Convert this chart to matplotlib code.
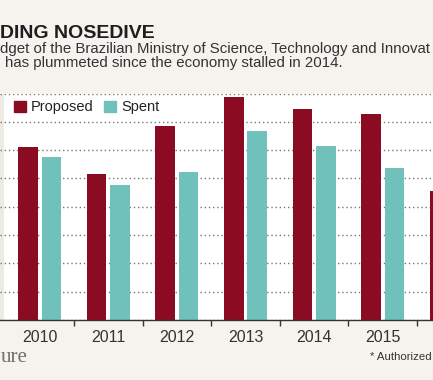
import numpy as np
import matplotlib
matplotlib.use('Agg')
import matplotlib.pyplot as plt
from matplotlib.patches import Patch

years = ['2010', '2011', '2012', '2013', '2014', '2015', '2016*']
proposed = [6.10, 5.15, 6.86, 7.86, 7.47, 7.29, 4.56]
spent = [5.77, 4.76, 5.21, 6.68, 6.15, 5.38, np.nan]

bg = '#f5f3ee'
red = '#8a0b22'
teal = '#70c1bc'

W, H = 433, 380
fig = plt.figure(figsize=(W / 100, H / 100), dpi=100)
fig.patch.set_facecolor(bg)

sans = ['Liberation Sans', 'DejaVu Sans']

# axes placed in pixel terms of the original picture
top_px, bot_px = 93.5, 320
ax = fig.add_axes([0, 1 - bot_px / H, 1, (bot_px - top_px) / H])
ax.set_facecolor('white')

x = np.arange(len(years))
bw = 0.284
off = 0.171
ax.bar(x - off, proposed, bw, color=red, zorder=2)
ax.bar(x + off, spent, bw, color=teal, zorder=2)

# only the years that fall inside the crop get a label
ax.set_xticks(x[:-1])
ax.set_xticklabels(years[:-1], fontsize=11.5, color='#333333', family=sans)
ax.set_xticks(x[:-1] + 0.5, minor=True)
ax.tick_params(axis='x', which='major', length=0, pad=7)
ax.tick_params(axis='x', which='minor', length=4, width=1, color='#333333', direction='out')

ax.set_axisbelow(True)
ax.set_yticks(np.arange(0, 9, 1))
ax.yaxis.grid(True, color='#777777', linestyle=(0, (1, 2)), linewidth=1)
ax.tick_params(axis='y', length=0, labelleft=False)

x0 = (0 - 39.7) / 68.6
x1 = (W - 39.7) / 68.6
ax.set_xlim(x0, x1)
ax.set_ylim(0, 8)
ax.axvspan(x0, (4 - 39.7) / 68.6, color='#eeebe5', lw=0, zorder=0.3)

for s in ['top', 'right', 'left']:
    ax.spines[s].set_visible(False)
ax.spines['bottom'].set_color('#333333')
ax.spines['bottom'].set_linewidth(1)

handles = [Patch(color=red, label='Proposed'), Patch(color=teal, label='Spent')]
ax.legend(handles=handles, loc='upper left', bbox_to_anchor=(14 / W, 1 - 7 / (bot_px - top_px)),
          ncol=2, frameon=False, borderpad=0, borderaxespad=0,
          handlelength=0.82, handleheight=0.82, handletextpad=0.35, columnspacing=0.7,
          prop={'family': sans, 'size': 10.5}, labelcolor='#222222')

# header text
fig.text(0 / W, 1 - 37.5 / H, 'DING NOSEDIVE', family=sans, weight='bold',
         fontsize=14, color='#1e1e1e', va='baseline', ha='left')
fig.text(0 / W, 1 - 52.7 / H, 'dget of the Brazilian Ministry of Science, Technology and Innovat',
         family=sans, fontsize=10.8, color='#333333', va='baseline', ha='left')
fig.text(5 / W, 1 - 66.7 / H, 'has plummeted since the economy stalled in 2014.',
         family=sans, fontsize=10.8, color='#333333', va='baseline', ha='left')

# footer text
fig.text(0.5 / W, 1 - 361.7 / H, 'ure', family=['Liberation Serif', 'DejaVu Serif'],
         fontsize=15, color='#6e6e6e', va='baseline', ha='left')
fig.text(370 / W, 1 - 360 / H, '* Authorized', family=sans, fontsize=8.2,
         color='#333333', va='baseline', ha='left')

fig.savefig('out.png', dpi=100, facecolor=bg)
